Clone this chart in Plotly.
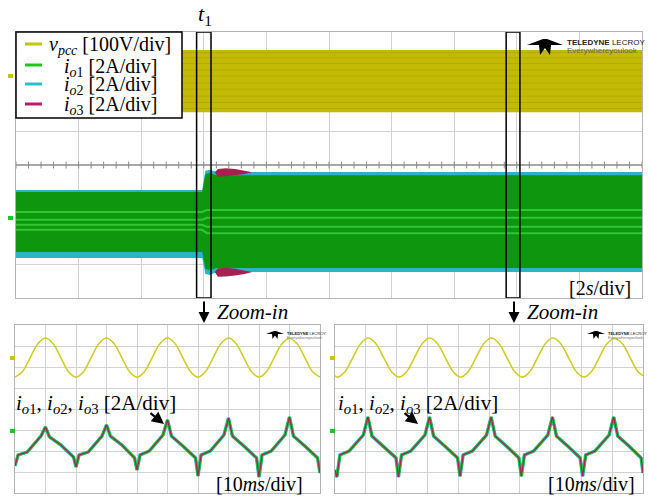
import plotly.graph_objects as go

W, H = 649, 500
def px(x): return x / W
def py(y): return 1 - y / H

# ---------------- data ----------------
# Top panel: 2 s/div, 10 div -> 0..20 s ; amplitudes in divisions
t1_time = 6.0
t1_box = [5.77, 6.23]
zoom2_box = [15.66, 16.10]

vpcc_t = [0, 20]
vpcc_hi = [3.46, 3.46]
vpcc_lo = [1.59, 1.59]
vpcc_streaks = [3.38, 3.22, 3.05, 2.86, 2.68, 2.47, 2.28, 2.07, 1.88, 1.70]

env_t = [0, 5.95, 6.05, 6.2, 6.4, 20]
io2_hi = [-0.75, -0.75, -0.17, -0.14, -0.21, -0.21]
io2_lo = [-2.80, -2.80, -3.28, -3.31, -3.22, -3.22]
io1_hi = [-0.81, -0.81, -0.27, -0.24, -0.31, -0.31]
io1_lo = [-2.62, -2.62, -3.12, -3.16, -3.10, -3.10]

stripe_t = [0, 5.95, 6.1, 20]
stripes = [[-1.41, -1.41, -1.35, -1.35],
           [-1.65, -1.65, -1.59, -1.59],
           [-1.80, -1.80, -1.86, -1.86],
           [-1.95, -1.95, -2.05, -2.05]]

bulge_x = [6.35, 6.45, 6.7, 7.0, 7.3, 7.55, 7.3, 7.0, 6.7, 6.45, 6.35]
bulge_top_y = [-0.22, -0.12, -0.10, -0.12, -0.17, -0.22, -0.27, -0.31, -0.34, -0.35, -0.22]
bulge_bot_y = [-3.22, -3.11, -3.09, -3.12, -3.18, -3.22, -3.28, -3.32, -3.35, -3.36, -3.22]

# Bottom panels: 10 ms/div, 0..100 ms ; amplitudes in divisions
v_left_t = [i * 2.5 for i in range(41)]
v_left = [1.52, 1.79, 2.45, 3.11, 3.38, 3.11, 2.45, 1.79,
          1.52, 1.79, 2.45, 3.11, 3.38, 3.11, 2.45, 1.79,
          1.52, 1.79, 2.45, 3.11, 3.38, 3.11, 2.45, 1.79,
          1.52, 1.79, 2.45, 3.11, 3.38, 3.11, 2.45, 1.79,
          1.52, 1.79, 2.45, 3.11, 3.36, 3.11, 2.45, 1.79, 1.52]
v_right_t = [0.8 + i * 2.5 for i in range(-1, 41)]
v_right = [1.79, 1.52, 1.79, 2.45, 3.11, 3.38, 3.11, 2.45, 1.79,
           1.52, 1.79, 2.45, 3.11, 3.38, 3.11, 2.45, 1.79,
           1.52, 1.79, 2.45, 3.11, 3.38, 3.11, 2.45, 1.79,
           1.52, 1.79, 2.45, 3.11, 3.38, 3.11, 2.45, 1.79,
           1.52, 1.79, 2.45, 3.11, 3.36, 3.11, 2.45, 1.79, 1.52]

i_left_t = [0, 1, 4, 8.5, 10, 11.3, 15, 19.2,
            20, 21, 24, 28.5, 30, 31.3, 35, 39.2,
            40, 41, 44, 48.5, 50, 51.3, 55, 59.2,
            60, 61, 64, 68.5, 70, 71.3, 75, 79.2,
            80, 81, 84, 88.5, 90, 91.3, 95, 99.2, 100]
i_left = [-2.71, -2.19, -2.05, -1.29, -0.86, -1.33, -1.71, -2.29,
          -2.76, -2.19, -2.05, -1.29, -0.76, -1.29, -1.71, -2.33,
          -2.90, -2.19, -2.00, -1.24, -0.52, -1.29, -1.76, -2.33,
          -3.19, -2.19, -2.00, -1.24, -0.43, -1.29, -1.76, -2.33,
          -3.24, -2.19, -2.00, -1.24, -0.38, -1.29, -1.76, -2.33, -3.05]

i_right_t = [0, 0.6, 1.6, 4.6, 9.2, 10.7, 12.0, 15.6, 19.8,
             20.6, 21.6, 24.6, 29.2, 30.7, 32.0, 35.6, 39.8,
             40.6, 41.6, 44.6, 49.2, 50.7, 52.0, 55.6, 59.7,
             60.5, 61.5, 64.5, 69.1, 70.6, 71.9, 75.5, 79.6,
             80.4, 81.4, 84.4, 89.0, 90.5, 91.8, 95.4, 99.4, 100]
i_right = [-2.90, -3.24, -2.19, -2.00, -1.24, -0.38, -1.29, -1.76, -2.33,
           -3.24, -2.19, -2.00, -1.24, -0.38, -1.29, -1.76, -2.33,
           -3.20, -2.19, -2.00, -1.24, -0.38, -1.29, -1.76, -2.33,
           -3.20, -2.19, -2.00, -1.24, -0.38, -1.29, -1.76, -2.33,
           -3.20, -2.19, -2.00, -1.24, -0.38, -1.29, -1.76, -2.33, -3.05]

# ---------------- colours ----------------
YEL = "#c2ba04"
YEL_DARK = "#8a8200"
GRN = "#0e960e"
GRN_LIGHT = "#3fdc3f"
CYN = "#2ab4c6"
MAG = "#a8204f"
GRID = "#d2d2d2"
FRAME = "#b4b4b4"

fig = go.Figure()

def poly(x, hi, lo):
    return list(x) + list(x)[::-1], list(hi) + list(lo)[::-1]

# ---- top panel ----
xx, yy = poly(vpcc_t, vpcc_hi, vpcc_lo)
fig.add_trace(go.Scatter(x=xx, y=yy, fill="toself", fillcolor=YEL, mode="none",
                         xaxis="x", yaxis="y", hoverinfo="skip"))
for s in vpcc_streaks:
    fig.add_trace(go.Scatter(x=vpcc_t, y=[s, s], mode="lines",
                             line=dict(color=YEL_DARK, width=1), opacity=0.25,
                             xaxis="x", yaxis="y", hoverinfo="skip"))
xx, yy = poly(env_t, io2_hi, io2_lo)
fig.add_trace(go.Scatter(x=xx, y=yy, fill="toself", fillcolor=CYN, mode="none",
                         xaxis="x", yaxis="y", hoverinfo="skip"))
xx, yy = poly(env_t, io1_hi, io1_lo)
fig.add_trace(go.Scatter(x=xx, y=yy, fill="toself", fillcolor=GRN, mode="none",
                         xaxis="x", yaxis="y", hoverinfo="skip"))
for s in stripes:
    fig.add_trace(go.Scatter(x=stripe_t, y=s, mode="lines",
                             line=dict(color=GRN_LIGHT, width=2), opacity=0.7,
                             xaxis="x", yaxis="y", hoverinfo="skip"))
for by in (bulge_top_y, bulge_bot_y):
    fig.add_trace(go.Scatter(x=bulge_x, y=by, fill="toself", fillcolor=MAG, mode="none",
                             xaxis="x", yaxis="y", hoverinfo="skip"))
# centre-line graticule ticks
fig.add_trace(go.Scatter(x=[i * 0.4 for i in range(51)], y=[0] * 51, mode="markers",
                         marker=dict(symbol="line-ns", size=5, line=dict(width=1, color="#8a8a8a")),
                         xaxis="x", yaxis="y", hoverinfo="skip"))
# t1 marker
fig.add_trace(go.Scatter(x=[t1_time], y=[4.1], mode="markers", cliponaxis=False,
                         marker=dict(symbol="triangle-down", size=10, color="black"),
                         xaxis="x", yaxis="y", hoverinfo="skip"))

# ---- bottom panels ----
for (vt, v, it, iv, xa, ya) in ((v_left_t, v_left, i_left_t, i_left, "x2", "y2"),
                                (v_right_t, v_right, i_right_t, i_right, "x3", "y3")):
    fig.add_trace(go.Scatter(x=vt, y=v, mode="lines", line=dict(color="#d2cc2a", width=1.6, shape="spline"),
                             xaxis=xa, yaxis=ya, hoverinfo="skip"))
    fig.add_trace(go.Scatter(x=it, y=iv, mode="lines", line=dict(color=CYN, width=3.4),
                             xaxis=xa, yaxis=ya, hoverinfo="skip"))
    fig.add_trace(go.Scatter(x=it, y=iv, mode="lines", line=dict(color="#1fbf1f", width=2.4),
                             xaxis=xa, yaxis=ya, hoverinfo="skip"))
    fig.add_trace(go.Scatter(x=it, y=iv, mode="lines", line=dict(color=MAG, width=1.1),
                             xaxis=xa, yaxis=ya, hoverinfo="skip"))

# ---------------- axes ----------------
def ax(domain, rng, dtick, anchor):
    return dict(domain=domain, range=rng, dtick=dtick, tick0=0, anchor=anchor,
                showgrid=True, gridcolor=GRID, gridwidth=1, zeroline=False,
                showticklabels=False, ticks="", showline=True, mirror=True,
                linecolor=FRAME, linewidth=1, fixedrange=True)

layout = dict(
    width=W, height=H, margin=dict(l=0, r=0, t=0, b=0),
    paper_bgcolor="white", plot_bgcolor="white", showlegend=False,
    xaxis=ax([px(16), px(642)], [0, 20], 2, "y"),
    yaxis=ax([py(298), py(32)], [-4, 4], 1, "x"),
    xaxis2=ax([px(15), px(320)], [0, 100], 10, "y2"),
    yaxis2=ax([py(493), py(325)], [-4, 4], 1, "x2"),
    xaxis3=ax([px(335), px(643)], [0, 100], 10, "y3"),
    yaxis3=ax([py(493), py(325)], [-4, 4], 1, "x3"),
)
layout["yaxis"]["zeroline"] = True
layout["yaxis"]["zerolinecolor"] = "#a8a8a8"
fig.update_layout(**layout)

shapes = []
# zoom boxes
for b in (t1_box, zoom2_box):
    shapes.append(dict(type="rect", xref="x", yref="y", x0=b[0], x1=b[1], y0=-4, y1=4,
                       line=dict(color="black", width=1.5)))
# legend box
shapes.append(dict(type="rect", xref="paper", yref="paper", x0=px(16), x1=px(182),
                   y0=py(118), y1=py(32), fillcolor="white", line=dict(color="black", width=1.5)))
leg_cols = ["#c8c400", "#22c322", "#28c0cc", "#c01a68"]
leg_y = [44, 65, 84, 104]
for c, yv in zip(leg_cols, leg_y):
    shapes.append(dict(type="line", xref="paper", yref="paper", x0=px(25), x1=px(42),
                       y0=py(yv), y1=py(yv), line=dict(color=c, width=3)))

# channel tags
for (x0, y0, c) in ((8, 74, "#c8c400"), (8, 216, "#22c322"), (10, 356, "#c8c400"), (10, 429, "#22c322"),
                    (330, 356, "#c8c400"), (330, 429, "#22c322")):
    shapes.append(dict(type="rect", xref="paper", yref="paper", x0=px(x0), x1=px(x0 + 5),
                       y0=py(y0 + 4), y1=py(y0), fillcolor=c, line=dict(width=0)))

# logos
def bird(x0, y0, s):
    pts = [(0, 6), (16, 0), (20, 0), (36, 6), (24, 6), (23, 16), (18, 9), (13, 16), (12, 6)]
    d = "M " + " L ".join(f"{px(x0 + a * s):.5f},{py(y0 + b * s):.5f}" for a, b in pts) + " Z"
    return dict(type="path", xref="paper", yref="paper", path=d, fillcolor="black",
                line=dict(width=0))
shapes.append(bird(527, 39, 1.0))
shapes.append(bird(266, 331, 0.5))
shapes.append(bird(587, 331, 0.5))

fig.update_layout(shapes=shapes)

SERIF = "Liberation Serif"
ann = []
def txt(x, y, s, size, xanchor="left", color="black", family=SERIF, yanchor="middle"):
    ann.append(dict(x=px(x), y=py(y), xref="paper", yref="paper", text=s, showarrow=False,
                    xanchor=xanchor, yanchor=yanchor, font=dict(family=family, size=size, color=color)))

# legend texts
txt(110, 46, "<i>v</i><sub><i>pcc</i></sub> [100V/div]", 20, "center")
txt(110, 67, "<i>i</i><sub><i>o</i>1</sub> [2A/div]", 20, "center")
txt(110, 86, "<i>i</i><sub><i>o</i>2</sub> [2A/div]", 20, "center")
txt(110, 106, "<i>i</i><sub><i>o</i>3</sub> [2A/div]", 20, "center")

txt(205, 15, "<i>t</i><sub>1</sub>", 22, "center")
txt(567, 288, "[2<i>s</i>/div]", 20)
txt(215, 312, "<i>Zoom-in</i>", 21)
txt(525, 312, "<i>Zoom-in</i>", 21)
txt(14, 404, "<i>i</i><sub><i>o</i>1</sub>, <i>i</i><sub><i>o</i>2</sub>, <i>i</i><sub><i>o</i>3</sub> [2A/div]", 21)
txt(336, 404, "<i>i</i><sub><i>o</i>1</sub>, <i>i</i><sub><i>o</i>2</sub>, <i>i</i><sub><i>o</i>3</sub> [2A/div]", 21)
txt(214, 484, "[10<i>ms</i>/div]", 20)
txt(546, 484, "[10<i>ms</i>/div]", 20)

# logo texts
txt(565, 43, "<b>TELEDYNE</b> LECROY", 8, family="Liberation Sans", color="#222")
txt(565, 51, "Everywhereyoulook", 8, family="Liberation Sans", color="#666")
txt(285, 333, "<b>TELEDYNE</b> LECROY", 4, family="Liberation Sans", color="#222")
txt(285, 337, "Everywhereyoulook", 4, family="Liberation Sans", color="#777")
txt(606, 333, "<b>TELEDYNE</b> LECROY", 4, family="Liberation Sans", color="#222")
txt(606, 337, "Everywhereyoulook", 4, family="Liberation Sans", color="#777")

# arrows
def arrow(xh, yh, xt, yt, w=2):
    ann.append(dict(x=px(xh), y=py(yh), xref="paper", yref="paper", ax=xt - xh, ay=yt - yh,
                    axref="pixel", ayref="pixel", text="", showarrow=True,
                    arrowhead=2, arrowsize=1.1, arrowwidth=w, arrowcolor="black"))
arrow(204, 323, 204, 300)
arrow(514, 323, 514, 300)
arrow(164, 424, 149, 412, 2.2)
arrow(418, 424, 403, 412, 2.2)

fig.update_layout(annotations=ann)
fig.write_html("out.html")
